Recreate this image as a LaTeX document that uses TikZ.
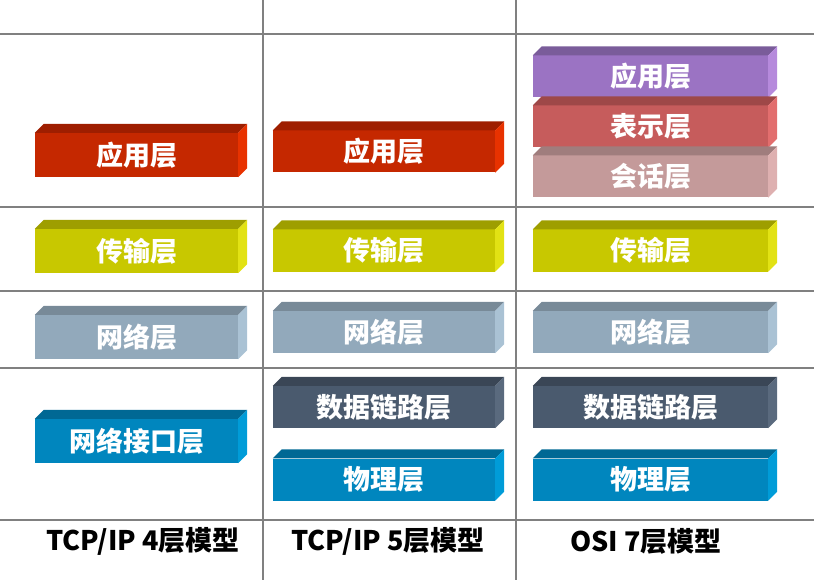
\documentclass[tikz,border=0pt]{standalone}
\usepackage{fontspec}
\usepackage{xcolor}
\usetikzlibrary{calc}
\newfontfamily\cjk{Noto Sans CJK SC}

% front / top / side colours of the slabs
\definecolor{appR}{RGB}{197,40,0}    \definecolor{appRtop}{RGB}{158,30,0}    \definecolor{appRside}{RGB}{232,50,0}
\definecolor{trsY}{RGB}{200,200,0}   \definecolor{trsYtop}{RGB}{158,158,0}   \definecolor{trsYside}{RGB}{226,226,20}
\definecolor{netG}{RGB}{146,169,187} \definecolor{netGtop}{RGB}{120,138,152} \definecolor{netGside}{RGB}{170,194,212}
\definecolor{phyB}{RGB}{0,134,190}   \definecolor{phyBtop}{RGB}{0,104,148}   \definecolor{phyBside}{RGB}{0,156,216}
\definecolor{lnkS}{RGB}{74,90,110}   \definecolor{lnkStop}{RGB}{58,70,86}    \definecolor{lnkSside}{RGB}{90,106,126}
\definecolor{appP}{RGB}{155,115,195} \definecolor{appPtop}{RGB}{122,92,154}  \definecolor{appPside}{RGB}{182,138,220}
\definecolor{preR}{RGB}{198,92,92}   \definecolor{preRtop}{RGB}{158,72,72}   \definecolor{preRside}{RGB}{226,110,110}
\definecolor{sesP}{RGB}{196,154,154} \definecolor{sesPtop}{RGB}{160,125,125} \definecolor{sesPside}{RGB}{222,176,176}

% #1 name, #2 centre, #3 colour, #4 width, #5 text
\newcommand{\slab}[5]{%
  \node[slab, fill=#3, minimum width=#4] (#1) at #2 {#5};
  \fill[#3top] (#1.north west) -- ++(9,-9) -- ($(#1.north east)+(9,-9)$) -- (#1.north east) -- cycle;
  \fill[#3side] (#1.north east) -- ++(9,-9) -- ($(#1.south east)+(9,-9)$) -- (#1.south east) -- cycle;
}

\begin{document}
\begin{tikzpicture}[x=1pt, y=-1pt,
    slab/.style={inner sep=0pt, minimum height=42pt, text=white,
                 font=\cjk\bfseries\fontsize{27}{27}\selectfont},
    gridline/.style={draw=gray, line width=1.5pt},
    caption/.style={font=\cjk\bfseries\fontsize{27}{27}\selectfont}]
\useasboundingbox (0,0) rectangle (814,580);

% Table lines
\foreach \y in {34,207,291,368,520}
    \draw[gridline] (0,\y) -- (814,\y);
\foreach \x in {263,516}
    \draw[gridline] (\x,0) -- (\x,580);

% Column 1: TCP/IP 4 layers
\begin{scope}[slab/.append style={minimum height=44pt}]
    \slab{a4}{(136.5,155)}{appR}{203pt}{应用层}
    \slab{t4}{(136.5,251)}{trsY}{203pt}{传输层}
    \slab{n4}{(136.5,337)}{netG}{203pt}{网络层}
    \slab{i4}{(136.5,441)}{phyB}{203pt}{网络接口层}
\end{scope}

% Column 2: TCP/IP 5 layers
\slab{a5}{(384,151.5)}{appR}{222pt}{应用层}
\slab{t5}{(384,250.5)}{trsY}{222pt}{传输层}
\slab{n5}{(384,332)}{netG}{222pt}{网络层}
\slab{d5}{(384,407)}{lnkS}{222pt}{数据链路层}
\slab{p5}{(384,479.5)}{phyB}{222pt}{物理层}

% Column 3: OSI 7 layers
\slab{a7}{(650.5,76.5)}{appP}{235pt}{应用层}
\slab{r7}{(650.5,126.5)}{preR}{235pt}{表示层}
\slab{s7}{(650.5,176.5)}{sesP}{235pt}{会话层}
\slab{t7}{(650.5,250.5)}{trsY}{235pt}{传输层}
\slab{n7}{(650.5,332)}{netG}{235pt}{网络层}
\slab{d7}{(650.5,407)}{lnkS}{235pt}{数据链路层}
\slab{p7}{(650.5,479.5)}{phyB}{235pt}{物理层}

% Captions
\node[caption] (m4) at (143,541) {TCP/IP 4层模型};
\node[caption] (m5) at (388,541) {TCP/IP 5层模型};
\node[caption] (m7) at (646,541) {OSI 7层模型};
\end{tikzpicture}
\end{document}
